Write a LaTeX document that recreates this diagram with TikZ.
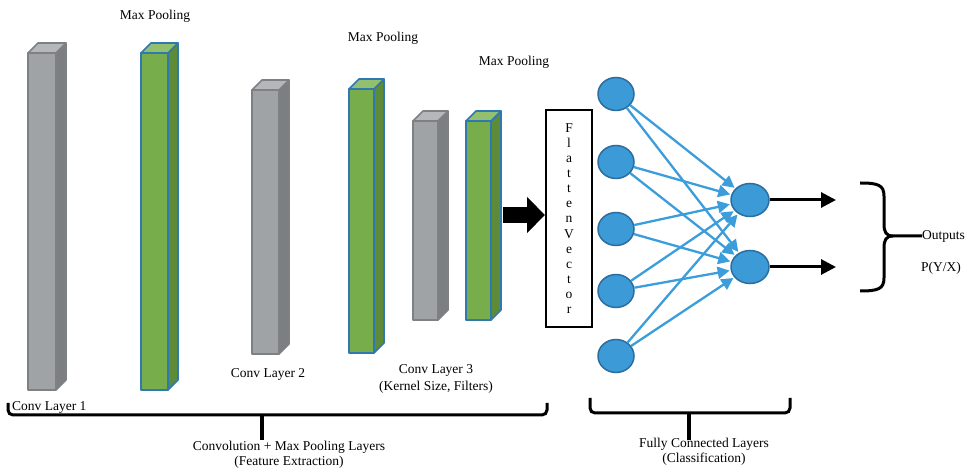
\documentclass[tikz,border=0pt]{standalone}
\usepackage{fontspec}
\setmainfont{Liberation Serif}
\usetikzlibrary{arrows.meta,shapes.geometric}

\definecolor{grayfront}{HTML}{A0A3A6}
\definecolor{grayside}{HTML}{7C7F82}
\definecolor{graytop}{HTML}{B5B8BB}
\definecolor{grayedge}{HTML}{7E8083}
\definecolor{greenfront}{HTML}{77AD4A}
\definecolor{greenside}{HTML}{5D8B38}
\definecolor{greentop}{HTML}{93C06E}
\definecolor{blueedge}{HTML}{2F78B2}
\definecolor{neuronfill}{HTML}{3C9BD6}
\definecolor{neuronedge}{HTML}{2C6D9F}
\definecolor{linkblue}{HTML}{3C9DDB}

% a box drawn in oblique projection: front face x1..x2, ytop..ybot, depth 10
% #5 front, #6 side, #7 top, #8 edge colour
\newcommand\cuboid[8]{%
  \filldraw[draw=#8,line width=1.6bp,line join=round,fill=#5] (#1,#3) rectangle (#2,#4);
  \filldraw[draw=#8,line width=1.6bp,line join=round,fill=#6] (#2,#3) -- ++(10,-10) -- (#2+10,#4-10) -- (#2,#4) -- cycle;
  \filldraw[draw=#8,line width=1.6bp,line join=round,fill=#7] (#1,#3) -- ++(10,-10) -- (#2+10,#3-10) -- (#2,#3) -- cycle;
}

\tikzset{
  label text/.style={font=\fontsize{13.5bp}{16bp}\selectfont, inner sep=0pt},
  neuron/.style={ellipse, draw=neuronedge, line width=1.5bp, fill=neuronfill,
                 minimum width=36bp, minimum height=33bp, inner sep=0pt},
  link/.style={draw=linkblue, line width=2.3bp, -{Triangle[length=12bp,width=12bp]}, shorten >=1bp},
  outarrow/.style={line width=3bp, -{Triangle[length=15bp,width=15bp]}},
  brace/.style={line width=3bp, rounded corners=5bp, line cap=butt},
}

\begin{document}
\begin{tikzpicture}[x=1bp,y=-1bp]
\useasboundingbox (0,0) rectangle (965,469);

% convolution and pooling volumes
\cuboid{28}{56}{53}{390}{grayfront}{grayside}{graytop}{grayedge}
\cuboid{141}{168}{53}{390}{greenfront}{greenside}{greentop}{blueedge}
\cuboid{252}{279}{90}{354}{grayfront}{grayside}{graytop}{grayedge}
\cuboid{349}{374}{89}{353}{greenfront}{greenside}{greentop}{blueedge}
\cuboid{413}{438}{121}{320}{grayfront}{grayside}{graytop}{grayedge}
\cuboid{466}{491}{121}{320}{greenfront}{greenside}{greentop}{blueedge}

% top labels
\node[label text] (mp1) at (155,16) {Max Pooling};
\node[label text] (mp2) at (383,38) {Max Pooling};
\node[label text] (mp3) at (514,62) {Max Pooling};

% layer labels
\node[label text, anchor=west] (cl1) at (12,407) {Conv Layer 1};
\node[label text] (cl2) at (268,374) {Conv Layer 2};
\node[label text, align=center] (cl3) at (436,379) {Conv Layer 3\\[1bp](Kernel Size, Filters)};

% flatten vector
\node[draw, line width=2bp, minimum width=46bp, minimum height=217bp, inner sep=0pt,
      font=\fontsize{13.5bp}{15.1bp}\selectfont, align=center] (flat) at (569,218.5)
  {F\\l\\a\\t\\t\\e\\n\\V\\e\\c\\t\\o\\r};

% block arrow into the flatten vector
\coordinate (blockstart) at (503,215);
\draw[line width=16bp, -{Triangle[length=18bp,width=35bp]}] (blockstart) -- (blockstart -| flat.west);

% fully connected layer
\foreach \i/\y in {1/94,2/162,3/229,4/291,5/356}
  \node[neuron] (in\i) at (616,\y) {};
\node[neuron, minimum width=38bp] (out1) at (750,200) {};
\node[neuron, minimum width=38bp] (out2) at (750,267) {};

\foreach \i in {1,...,5}
  \foreach \o in {1,2}
    \draw[link] (in\i) -- (out\o);

% output arrows
\coordinate (end1) at (836,200);
\coordinate (end2) at (836,267);
\draw[outarrow] (out1) -- (end1);
\draw[outarrow] (out2) -- (end2);

% output brace
\draw[line width=3bp] (860,183) .. controls (878,183) and (884,185) .. (884,196)
  -- (884,224) .. controls (884,232) and (886,236) .. (893,236) -- (922,236);
\draw[line width=3bp] (860,291) .. controls (878,291) and (884,289) .. (884,278)
  -- (884,248) .. controls (884,240) and (886,236) .. (893,236);
\node[label text, anchor=west] (outs) at (922,236) {Outputs};
\node[label text] (pyx) at (941,268) {P(Y/X)};

% bottom braces
\draw[brace] (8,403) -- (8,415) -- (547,415) -- (547,403);
\draw[line width=3.5bp] (262,415) -- (262,440);
\node[label text, align=center] (fe) at (289,455) {Convolution + Max Pooling Layers\\[-1bp](Feature Extraction)};

\draw[brace] (590,398) -- (590,413) -- (790,413) -- (790,398);
\draw[line width=3.5bp] (689,413) -- (689,440);
\node[label text, align=center] (fc) at (704,452) {Fully Connected Layers\\[-1bp](Classification)};
\end{tikzpicture}
\end{document}
